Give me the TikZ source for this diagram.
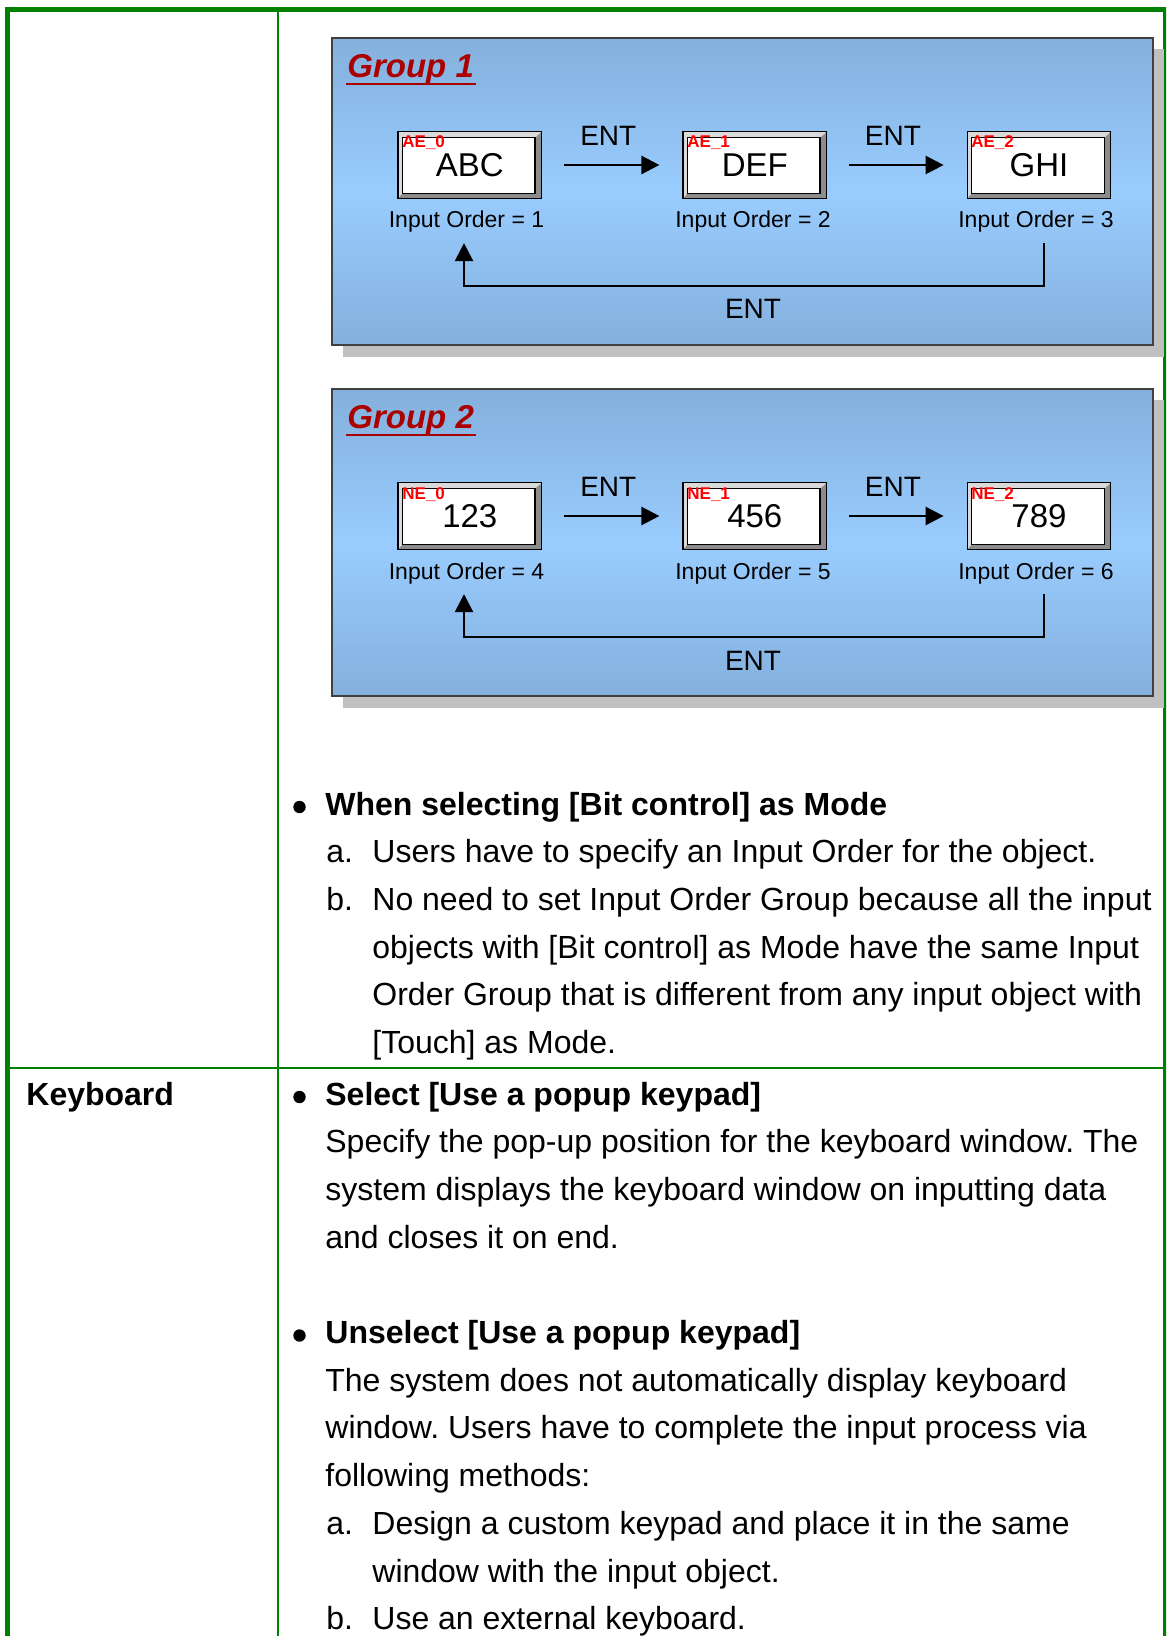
\documentclass[tikz,border=0pt]{standalone}
\usepackage{fontspec}
\setmainfont{Liberation Sans}
\usetikzlibrary{arrows.meta,positioning}
\frenchspacing

\definecolor{tablegreen}{RGB}{0,128,0}
\definecolor{grouptop}{RGB}{132,176,220}
\definecolor{groupmid}{RGB}{153,204,255}
\definecolor{groupred}{RGB}{170,0,0}
\definecolor{shadowgray}{RGB}{192,192,192}
\definecolor{bevelgray}{RGB}{140,140,140}
\definecolor{bevellight}{RGB}{218,218,218}

\tikzset{
  tableline/.style={draw=tablegreen},
  groupbox/.style={draw=black!75, line width=0.75pt, top color=grouptop, bottom color=grouptop, middle color=groupmid},
  groupshadow/.style={fill=shadowgray},
  grouptitle/.style={anchor=base west, inner sep=0pt, text=groupred, font=\fontsize{16.5}{20}\selectfont\bfseries\itshape},
  entrybox/.style={draw=black, line width=0.6pt, fill=bevelgray, minimum width=71.8pt, minimum height=33.3pt,
    inner sep=0pt, font=\fontsize{16.5}{20}\selectfont,
    path picture={
      \fill[bevellight] (path picture bounding box.south west) -- (path picture bounding box.north west)
        -- (path picture bounding box.north east) -- ([shift={(-3.25pt,-3pt)}]path picture bounding box.north east)
        -- ([shift={(2.25pt,-3pt)}]path picture bounding box.north west) -- ([shift={(2.25pt,2.5pt)}]path picture bounding box.south west) -- cycle;
      \draw[fill=white, line width=0.75pt] ([shift={(2.25pt,2.5pt)}]path picture bounding box.south west)
        rectangle ([shift={(-3.25pt,-3pt)}]path picture bounding box.north east);
    }},
  objid/.style={anchor=base west, inner sep=0pt, text=red, font=\fontsize{8.5}{9}\selectfont\bfseries},
  orderlabel/.style={anchor=base, inner sep=0pt, font=\fontsize{11.5}{13}\selectfont},
  entlabel/.style={inner sep=0pt, font=\fontsize{14}{17}\selectfont},
  entarrow/.style={line width=1.3pt, -{Triangle[length=9pt,width=9pt]}},
  bodytext/.style={anchor=base west, inner sep=0pt, font=\fontsize{16}{24}\selectfont},
  headtext/.style={anchor=base west, inner sep=0pt, font=\fontsize{16}{24}\selectfont\bfseries},
  bulletdot/.style={circle, fill=black, inner sep=0pt, minimum size=6.2pt},
}

\begin{document}
\begin{tikzpicture}[x=0.5pt,y=-0.5pt]
\useasboundingbox (0,0) rectangle (1166,1636);
\clip (0,0) rectangle (1166,1636);
\fill[white] (0,0) rectangle (1166,1636);

% table frame
\draw[tableline, line width=2.5pt] (7.5,1700) -- (7.5,9.5) -- (1165.5,9.5) -- (1165.5,1700);
\draw[tableline, line width=1pt] (278,9.5) -- (278,1700);
\draw[tableline, line width=1pt] (7.5,1068) -- (1165.5,1068);

% group 1
\fill[groupshadow] (343,49) rectangle (1164,357);
\draw[groupbox] (332,38) rectangle (1153,345);
\node[grouptitle] (grp1) at (347,78) {Group 1};
\draw[groupred, line width=0.75pt] ([shift={(-0.5pt,-3pt)}]grp1.base west) -- ([shift={(1pt,-3pt)}]grp1.base east);
\node[entrybox] (abc) at (469.8,165) {ABC};
\node[entrybox] (def) at (754.8,165) {DEF};
\node[entrybox] (ghi) at (1039,165) {GHI};
\node[objid] (abcid) at (402,148) {AE\_0};
\node[objid] (defid) at (687,148) {AE\_1};
\node[objid] (ghiid) at (971,148) {AE\_2};
\node[orderlabel] (abcord) at (466.5,228) {Input Order = 1};
\node[orderlabel] (deford) at (753,228) {Input Order = 2};
\node[orderlabel] (ghiord) at (1036,228) {Input Order = 3};
\draw[entarrow, shorten <=11pt, shorten >=11.5pt] (abc) -- node[entlabel, above=9pt, xshift=-2pt] (abcent) {ENT} (def);
\draw[entarrow, shorten <=11pt, shorten >=11.5pt] (def) -- node[entlabel, above=9pt, xshift=-2pt] (defent) {ENT} (ghi);
\draw[entarrow, shorten <=5pt, shorten >=5pt] ([xshift=4pt]ghiord.south) -- ++(0,53) -| ([xshift=-1.25pt]abcord.south);
\node[entlabel, anchor=base] (ghient) at (753,319) {ENT};

% group 2
\fill[groupshadow] (343,400) rectangle (1164,708);
\draw[groupbox] (332,389) rectangle (1153,696);
\node[grouptitle] (grp2) at (347,429) {Group 2};
\draw[groupred, line width=0.75pt] ([shift={(-0.5pt,-3pt)}]grp2.base west) -- ([shift={(1pt,-3pt)}]grp2.base east);
\node[entrybox] (n123) at (469.8,516) {123};
\node[entrybox] (n456) at (754.8,516) {456};
\node[entrybox] (n789) at (1039,516) {789};
\node[objid] (n123id) at (402,499) {NE\_0};
\node[objid] (n456id) at (687,499) {NE\_1};
\node[objid] (n789id) at (971,499) {NE\_2};
\node[orderlabel] (n123ord) at (466.5,579) {Input Order = 4};
\node[orderlabel] (n456ord) at (753,579) {Input Order = 5};
\node[orderlabel] (n789ord) at (1036,579) {Input Order = 6};
\draw[entarrow, shorten <=11pt, shorten >=11.5pt] (n123) -- node[entlabel, above=9pt, xshift=-2pt] (n123ent) {ENT} (n456);
\draw[entarrow, shorten <=11pt, shorten >=11.5pt] (n456) -- node[entlabel, above=9pt, xshift=-2pt] (n456ent) {ENT} (n789);
\draw[entarrow, shorten <=5pt, shorten >=5pt] ([xshift=4pt]n789ord.south) -- ++(0,53) -| ([xshift=-1.25pt]n123ord.south);
\node[entlabel, anchor=base] (n789ent) at (753,670) {ENT};

% bit control text
\node[bulletdot] (bitdot) at (299.5,807) {};
\node[headtext] (bithead) at (325,815) {When selecting [Bit control] as Mode};
\node[bodytext] (bitanum) at (326,862.7) {a.};
\node[bodytext] (bita) at (372,862.7) {Users have to specify an Input Order for the object.};
\node[bodytext] (bitbnum) at (326,910.4) {b.};
\node[bodytext] (bitb1) at (372,910.4) {No need to set Input Order Group because all the input};
\node[bodytext] (bitb2) at (372,958.1) {objects with [Bit control] as Mode have the same Input};
\node[bodytext] (bitb3) at (372,1005.8) {Order Group that is different from any input object with};
\node[bodytext] (bitb4) at (372,1053.5) {[Touch] as Mode.};

% keyboard row
\node[headtext] (kbd) at (26,1105) {Keyboard};
\node[bulletdot] (seldot) at (299.5,1097) {};
\node[headtext] (selhead) at (325,1105) {Select [Use a popup keypad]};
\node[bodytext] (sel1) at (325,1152.7) {Specify the pop-up position for the keyboard window. The};
\node[bodytext] (sel2) at (325,1200.4) {system displays the keyboard window on inputting data};
\node[bodytext] (sel3) at (325,1248.1) {and closes it on end.};
\node[bulletdot] (unseldot) at (299.5,1335.5) {};
\node[headtext] (unselhead) at (325,1343.5) {Unselect [Use a popup keypad]};
\node[bodytext] (unsel1) at (325,1391.2) {The system does not automatically display keyboard};
\node[bodytext] (unsel2) at (325,1438.9) {window. Users have to complete the input process via};
\node[bodytext] (unsel3) at (325,1486.6) {following methods:};
\node[bodytext] (unselanum) at (326,1534.3) {a.};
\node[bodytext] (unsela1) at (372,1534.3) {Design a custom keypad and place it in the same};
\node[bodytext] (unsela2) at (372,1582) {window with the input object.};
\node[bodytext] (unselbnum) at (326,1629.7) {b.};
\node[bodytext] (unselb) at (372,1629.7) {Use an external keyboard.};
\end{tikzpicture}
\end{document}
